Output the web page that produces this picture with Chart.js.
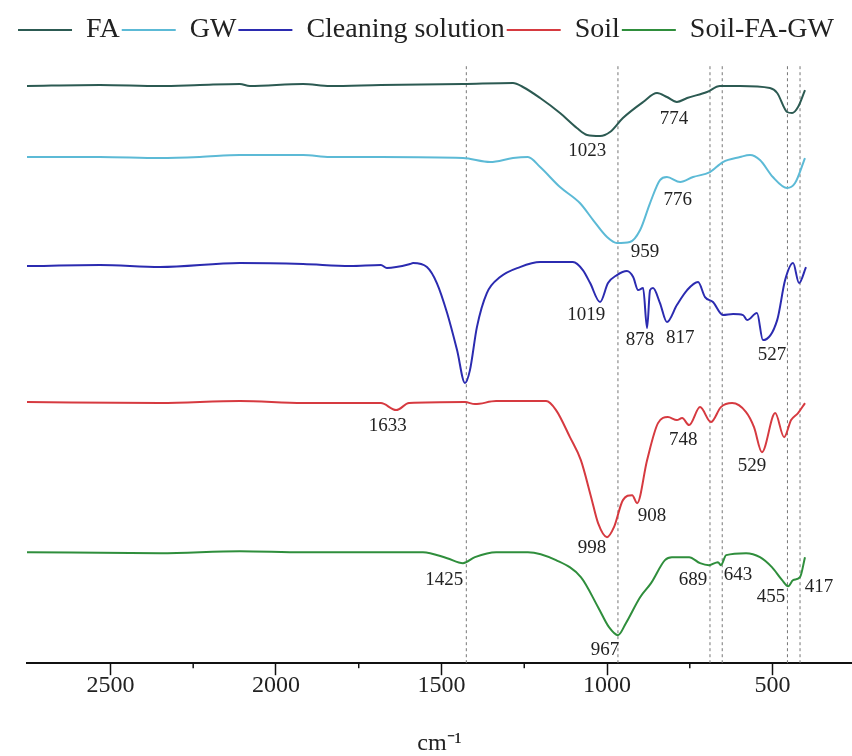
<!DOCTYPE html>
<html>
<head>
<meta charset="utf-8">
<title>FTIR spectra</title>
<script src="https://cdn.jsdelivr.net/npm/chart.js@4.4.1/dist/chart.umd.min.js"></script>
<style>
  body { margin: 0; background: #fff; }
  #wrap { width: 852px; height: 756px; }
</style>
</head>
<body>
<div id="wrap"><canvas id="chart"></canvas></div>
<script>
// Spectra: [wavenumber (cm-1), offset transmittance (a.u.)]
const FA = [
  [2752, 57.7], [2532, 57.8], [2350, 57.7], [2230, 57.8], [2109, 57.9], [2079, 57.7],
  [1918, 57.9], [1837, 57.7], [1683, 57.8], [1435, 57.9], [1284, 58.0], [1254, 57.6],
  [1202, 56.5], [1142, 55.0], [1091, 53.5], [1060, 52.8], [1021, 52.7], [991, 53.1],
  [952, 54.5], [891, 56.1], [849, 57.0], [819, 56.6], [789, 56.1], [758, 56.5],
  [698, 57.1], [659, 57.7], [598, 57.7], [508, 57.5], [486, 57.0], [456, 55.1],
  [441, 55.0], [423, 55.6], [402, 57.3]
];
const GW = [
  [2752, 50.6], [2532, 50.6], [2350, 50.5], [2230, 50.6], [2109, 50.8], [1918, 50.8],
  [1837, 50.6], [1683, 50.6], [1435, 50.5], [1353, 50.1], [1284, 50.5], [1239, 50.6],
  [1202, 49.6], [1142, 47.6], [1082, 46.0], [1042, 44.3], [1000, 42.6], [970, 42.0],
  [931, 42.1], [900, 43.3], [870, 46.0], [840, 48.3], [819, 48.6], [779, 48.1],
  [740, 48.6], [689, 49.1], [650, 50.1], [598, 50.6], [568, 50.8], [538, 50.3],
  [499, 48.6], [456, 47.5], [432, 48.0], [402, 50.5]
];
const CLEANING = [
  [2752, 39.7], [2532, 39.8], [2350, 39.6], [2109, 40.0], [1918, 39.9], [1776, 39.7],
  [1683, 39.8], [1665, 39.5], [1595, 39.9], [1586, 40.0], [1544, 39.6], [1514, 38.0],
  [1483, 35.0], [1453, 31.3], [1429, 28.0], [1414, 29.3], [1393, 33.6], [1363, 37.0],
  [1323, 38.6], [1263, 39.6], [1202, 40.1], [1103, 40.1], [1073, 39.3], [1051, 38.0],
  [1021, 36.1], [997, 38.0], [970, 38.8], [940, 39.2], [921, 38.6], [906, 37.3],
  [891, 37.5], [879, 33.5], [870, 37.3], [861, 37.5], [840, 36.0], [819, 34.1],
  [789, 35.8], [758, 37.3], [725, 38.1], [704, 36.6], [680, 36.1], [650, 34.8],
  [619, 34.9], [589, 34.8], [577, 34.3], [547, 35.0], [529, 32.3], [486, 34.3],
  [462, 38.3], [438, 40.0], [420, 38.0], [399, 39.6]
];
const SOIL = [
  [2752, 26.1], [2350, 26.0], [2109, 26.2], [1918, 26.0], [1683, 26.0], [1637, 25.3],
  [1598, 26.0], [1429, 26.1], [1399, 25.9], [1335, 26.2], [1184, 26.2], [1154, 25.3],
  [1112, 22.6], [1079, 20.3], [1048, 16.6], [1027, 14.0], [1000, 12.6], [979, 13.6],
  [952, 16.3], [924, 16.8], [909, 16.0], [879, 20.3], [846, 24.0], [816, 24.6],
  [789, 24.3], [773, 24.5], [752, 23.8], [719, 25.6], [686, 24.1], [656, 25.6],
  [622, 26.0], [580, 25.1], [556, 23.6], [532, 21.1], [492, 25.0], [465, 22.6],
  [444, 24.3], [423, 25.0], [402, 26.0]
];
const SOIL_FA_GW = [
  [2752, 11.1], [2350, 11.0], [2109, 11.2], [1918, 11.1], [1683, 11.1], [1556, 11.1],
  [1483, 10.5], [1435, 10.0], [1399, 10.6], [1335, 11.1], [1239, 11.1], [1154, 10.3],
  [1079, 8.6], [1027, 5.6], [994, 3.6], [967, 2.8], [943, 4.0], [900, 6.6],
  [867, 8.0], [825, 10.3], [804, 10.6], [752, 10.6], [719, 10.0], [692, 9.8],
  [665, 10.1], [656, 9.8], [640, 10.8], [580, 11.0], [538, 10.6], [502, 9.6],
  [471, 8.3], [453, 7.7], [438, 8.3], [417, 8.6], [402, 10.6]
];

const SERIES_NAMES = ["FA", "GW", "Cleaning solution", "Soil", "Soil-FA-GW"];
const SERIES_DATA = [FA, GW, CLEANING, SOIL, SOIL_FA_GW];
const SERIES_COLORS = ["#2c5a52", "#5cbad6", "#2b2bb0", "#d63a40", "#2f8e3c"];

// dotted reference lines (cm-1)
const MARKER_LINES = [1425, 967, 689, 652, 455, 417];
const MARKER_TOP = 59.8;

// peak labels: text, wavenumber, value
const PEAK_LABELS = [
  ["1023", 1060, 51.2], ["774", 798, 54.4],
  ["959", 885, 41.1], ["776", 786, 46.3],
  ["1019", 1063, 34.8], ["878", 900, 32.3], ["817", 779, 32.5], ["527", 502, 30.8],
  ["1633", 1662, 23.7], ["998", 1045, 11.5], ["908", 864, 14.7], ["748", 770, 22.3], ["529", 562, 19.7],
  ["1425", 1492, 8.3], ["967", 1006, 1.3], ["689", 740, 8.3], ["643", 604, 8.8],
  ["455", 505, 6.6], ["417", 360, 7.6]
];

const TICK_VALUES = [500, 750, 1000, 1250, 1500, 1750, 2000, 2250, 2500];
const X_MIN = 260;
const X_MAX = 2752;

Chart.defaults.font.family = '"Liberation Serif", "Times New Roman", serif';
Chart.defaults.color = "#222";

const datasets = SERIES_DATA.map((series, i) => ({
  label: SERIES_NAMES[i],
  data: series.map(p => ({ x: p[0], y: p[1] })),
  borderColor: SERIES_COLORS[i],
  backgroundColor: SERIES_COLORS[i],
  borderWidth: 2,
  pointRadius: 0,
  cubicInterpolationMode: "monotone",
  fill: false
}));

MARKER_LINES.forEach(w => {
  datasets.push({
    label: "marker",
    data: [{ x: w, y: 0 }, { x: w, y: MARKER_TOP }],
    borderColor: "#777",
    borderWidth: 1,
    borderDash: [3, 3],
    pointRadius: 0,
    fill: false
  });
});

// peak numbers next to the bands
const peakLabels = {
  id: "peakLabels",
  afterDatasetsDraw(chart) {
    const { ctx, scales } = chart;
    ctx.save();
    ctx.font = '19px "Liberation Serif", "Times New Roman", serif';
    ctx.fillStyle = "#222";
    ctx.textAlign = "center";
    ctx.textBaseline = "middle";
    PEAK_LABELS.forEach(([text, w, v]) => {
      ctx.fillText(text, scales.x.getPixelForValue(w), scales.y.getPixelForValue(v));
    });
    ctx.restore();
  }
};

// short minor ticks on the x axis
const minorTicks = {
  id: "minorTicks",
  afterDraw(chart) {
    const { ctx, scales, chartArea } = chart;
    ctx.save();
    ctx.strokeStyle = "#111";
    ctx.lineWidth = 1.5;
    TICK_VALUES.filter(v => v % 500 !== 0).forEach(v => {
      const px = scales.x.getPixelForValue(v);
      ctx.beginPath();
      ctx.moveTo(px, chartArea.bottom);
      ctx.lineTo(px, chartArea.bottom + 5);
      ctx.stroke();
    });
    ctx.restore();
  }
};

new Chart(document.getElementById("chart"), {
  type: "line",
  data: { datasets },
  plugins: [peakLabels, minorTicks],
  options: {
    responsive: true,
    maintainAspectRatio: false,
    animation: false,
    layout: { padding: { top: 14, left: 0, right: 0, bottom: 0 } },
    plugins: {
      tooltip: { enabled: false },
      legend: {
        position: "top",
        labels: {
          filter: item => item.datasetIndex < SERIES_NAMES.length,
          usePointStyle: true,
          pointStyle: "line",
          pointStyleWidth: 54,
          padding: 2,
          color: "#222",
          font: { size: 28 }
        }
      }
    },
    scales: {
      x: {
        type: "linear",
        reverse: true,
        min: X_MIN,
        max: X_MAX,
        afterBuildTicks: scale => {
          scale.ticks = TICK_VALUES.map(v => ({ value: v }));
        },
        ticks: {
          padding: -4,
          color: "#222",
          font: { size: 24 },
          callback: v => (v % 500 === 0 ? String(v) : "")
        },
        grid: {
          display: true,
          drawOnChartArea: false,
          drawTicks: true,
          tickLength: 12,
          tickWidth: 1.5,
          tickColor: ctx => (ctx.tick && ctx.tick.value % 500 === 0 ? "#111" : "rgba(0,0,0,0)")
        },
        border: { display: true, color: "#111", width: 2 },
        title: {
          display: true,
          text: "cm\u207B\u00B9",
          color: "#222",
          font: { size: 24, lineHeight: 1 },
          padding: { top: 36, bottom: 0 }
        }
      },
      y: {
        min: 0,
        max: 60.9,
        ticks: { display: false },
        grid: { display: false, drawTicks: false },
        border: { display: false },
        afterFit: scale => {
          scale.width = 27;
        }
      }
    }
  }
});
</script>
</body>
</html>
